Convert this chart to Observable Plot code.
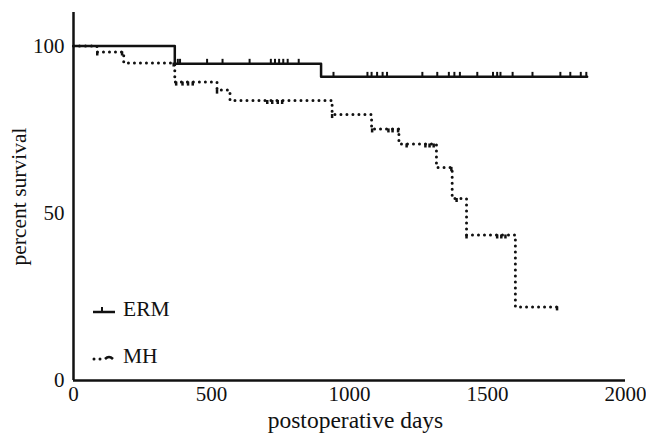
<!DOCTYPE html>
<html><head><meta charset="utf-8">
<script src="https://cdn.jsdelivr.net/npm/d3@7"></script>
<script src="https://cdn.jsdelivr.net/npm/@observablehq/plot@0.6"></script>
<style>
body{margin:0;background:#fff}
#wrap{position:relative;width:646px;height:440px}
.leg{position:absolute;left:92px;font-family:"Liberation Serif",serif;font-size:21.5px;color:#111;display:flex;align-items:center;gap:7px;line-height:1}
.leg svg{display:block}
</style></head><body><div id="wrap"></div>
<script>
// Kaplan-Meier steps (days, percent survival)
const ermTimes = [0, 367, 897, 1861];
const ermSurv  = [100, 94.7, 90.8, 90.8];
const mhTimes  = [0, 85, 182, 367, 520, 567, 937, 1080, 1179, 1315, 1372, 1424, 1601, 1752];
const mhSurv   = [100, 98.2, 94.9, 89.2, 86.8, 83.7, 79.5, 75.2, 70.7, 63.7, 54.4, 43.5, 22.0, 22.0];
// censored observations (days)
const ermCensor = [378, 386, 484, 540, 638, 715, 730, 745, 760, 776, 816, 942,
  1065, 1080, 1100, 1120, 1136, 1264, 1318, 1360, 1380, 1400, 1463, 1520, 1535, 1547,
  1591, 1663, 1764, 1800, 1838, 1858];
const mhCensor = [86, 176, 363, 372, 395, 415, 432, 520, 702, 720, 740, 756, 937,
  1082, 1141, 1156, 1176, 1207, 1275, 1290, 1305, 1369, 1388, 1424, 1535, 1550, 1565, 1752];
const xTicks = [0, 500, 1000, 1500, 2000];
const yTicks = [0, 50, 100];
const labels = {x: "postoperative days", y: "percent survival"};
const groups = ["ERM", "MH"];

function survAt(times, surv, t) {
  let s = surv[0];
  for (let i = 0; i < times.length; i++) if (times[i] <= t) s = surv[i];
  return s;
}
const ermData = ermTimes.map((t, i) => ({t, s: ermSurv[i]}));
const mhData = mhTimes.map((t, i) => ({t, s: mhSurv[i]}));
const ermC = ermCensor.map(t => ({t, s: survAt(ermTimes, ermSurv, t)}));
const mhC = mhCensor.map(t => ({t, s: survAt(mhTimes, mhSurv, t)}));
const fmt = d3.format("d");

const chart = Plot.plot({
  width: 646, height: 440,
  marginLeft: 73, marginRight: 21, marginTop: 12, marginBottom: 60,
  style: {fontFamily: "Liberation Serif, serif", fontSize: "21px", color: "#111", background: "#fff"},
  x: {domain: [0, 2000], label: null},
  y: {domain: [0, 110], label: null},
  marks: [
    Plot.axisX(xTicks, {tickSize: 0, tickPadding: 6, tickFormat: fmt, fontSize: 21, fill: "#111", label: null}),
    Plot.axisY(yTicks, {tickSize: 0, tickPadding: 9, tickFormat: fmt, fontSize: 21, fill: "#111", label: null}),
    Plot.line(mhData, {x: "t", y: "s", curve: "step-after", stroke: "#111", strokeWidth: 3, strokeDasharray: "0,6", strokeLinecap: "round"}),
    Plot.ruleX(mhC, {x: "t", y1: d => d.s - 1.2, y2: "s", stroke: "#111", strokeWidth: 2.5}),
    Plot.line(ermData, {x: "t", y: "s", curve: "step-after", stroke: "#111", strokeWidth: 2.5}),
    Plot.ruleX(ermC, {x: "t", y1: "s", y2: d => d.s + 1.3, stroke: "#111", strokeWidth: 2}),
    Plot.ruleX([0], {stroke: "#111", strokeWidth: 2.5}),
    Plot.ruleY([0], {stroke: "#111", strokeWidth: 2.5}),
    Plot.text([labels.x], {frameAnchor: "bottom", dx: 6, dy: 47, fontSize: 23.5, fill: "#111"}),
    Plot.text([labels.y], {frameAnchor: "left", textAnchor: "middle", dx: -54, rotate: -90, fontSize: 21.5, fill: "#111"})
  ]
});
const wrap = document.getElementById("wrap");
wrap.appendChild(chart);

// legend inside plot area
const legTop = [299, 346];
groups.forEach((g, i) => {
  const d = document.createElement("div");
  d.className = "leg";
  d.style.top = legTop[i] + "px";
  const sample = i === 0
    ? '<svg width="24" height="22"><line x1="1" x2="23" y1="13" y2="13" stroke="#111" stroke-width="2.5"/><line x1="10" x2="10" y1="13" y2="8" stroke="#111" stroke-width="2"/></svg>'
    : '<svg width="24" height="22"><line x1="2" x2="10" y1="13" y2="13" stroke="#111" stroke-width="3" stroke-dasharray="0,6" stroke-linecap="round"/><path d="M13,13 Q17,9 21,13" fill="none" stroke="#111" stroke-width="2.5"/></svg>';
  d.innerHTML = sample + '<span>' + g + '</span>';
  wrap.appendChild(d);
});
</script>
</body></html>
